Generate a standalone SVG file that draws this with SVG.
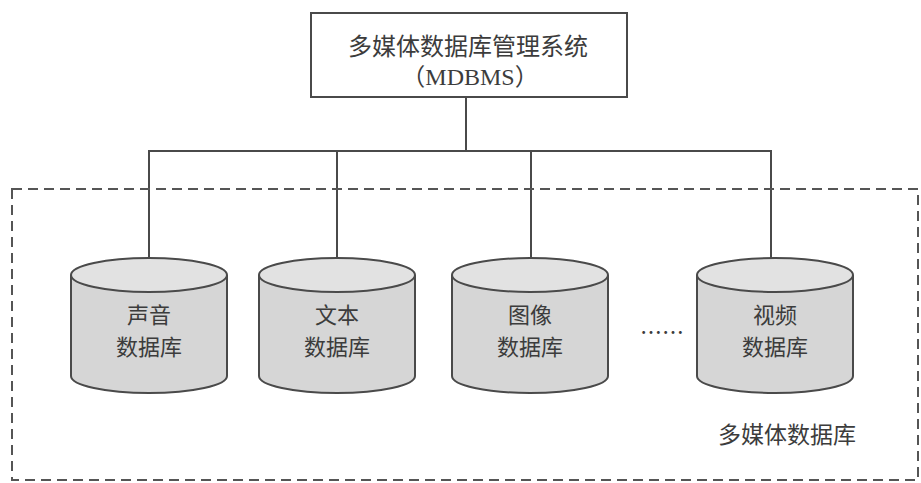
<svg xmlns="http://www.w3.org/2000/svg" width="921" height="483" viewBox="0 0 921 483">
<style>
.ln{fill:none;stroke:#4a4a4a;stroke-width:2}
.body{fill:#d6d6d6;stroke:#4a4a4a;stroke-width:2}
.cap{fill:#e2e2e2;stroke:#4a4a4a;stroke-width:2}
.t{font-family:"Noto Sans CJK SC","Liberation Serif",serif;fill:#3c3c3c;text-anchor:middle;dominant-baseline:central}
.tc{font-size:22px}
</style>
<rect width="921" height="483" fill="#ffffff"/>
<g id="connectors">
<line class="ln" x1="466" y1="97" x2="466" y2="151"/>
<polyline class="ln" points="149,258 149,151 771,151 771,258"/>
<line class="ln" x1="337" y1="151" x2="337" y2="258"/>
<line class="ln" x1="531" y1="151" x2="531" y2="258"/>
</g>
<g id="multimedia-db">
<rect x="12" y="189" width="906" height="291" fill="none" stroke="#555" stroke-width="2" stroke-dasharray="10,6"/>
<text class="t" x="787" y="433" font-size="23">多媒体数据库</text>
</g>
<g id="mdbms">
<rect x="311" y="13" width="316" height="84" fill="#fff" stroke="#4a4a4a" stroke-width="2"/>
<text class="t" x="468" y="44" font-size="24">多媒体数据库管理系统</text>
<text x="470" y="77" font-size="24" fill="#3c3c3c" text-anchor="middle" dominant-baseline="central" font-family="'Liberation Serif','Noto Sans CJK SC',serif">（MDBMS）</text>
</g>
<g id="audio-db">
<path class="body" d="M71,275 V376 A78,17 0 0 0 227,376 V275"/>
<ellipse class="cap" cx="149" cy="275" rx="78" ry="17"/>
<text class="t tc" x="149" y="313">声音</text>
<text class="t tc" x="149" y="345">数据库</text>
</g>
<g id="text-db">
<path class="body" d="M259,275 V376 A78,17 0 0 0 415,376 V275"/>
<ellipse class="cap" cx="337" cy="275" rx="78" ry="17"/>
<text class="t tc" x="337" y="313">文本</text>
<text class="t tc" x="337" y="345">数据库</text>
</g>
<g id="image-db">
<path class="body" d="M452,275 V376 A78,17 0 0 0 608,376 V275"/>
<ellipse class="cap" cx="530" cy="275" rx="78" ry="17"/>
<text class="t tc" x="530" y="313">图像</text>
<text class="t tc" x="530" y="345">数据库</text>
</g>
<g id="ellipsis">
<text class="t" x="662" y="330" font-size="22">……</text>
</g>
<g id="video-db">
<path class="body" d="M697,275 V376 A78,17 0 0 0 853,376 V275"/>
<ellipse class="cap" cx="775" cy="275" rx="78" ry="17"/>
<text class="t tc" x="775" y="313">视频</text>
<text class="t tc" x="775" y="345">数据库</text>
</g>
</svg>
